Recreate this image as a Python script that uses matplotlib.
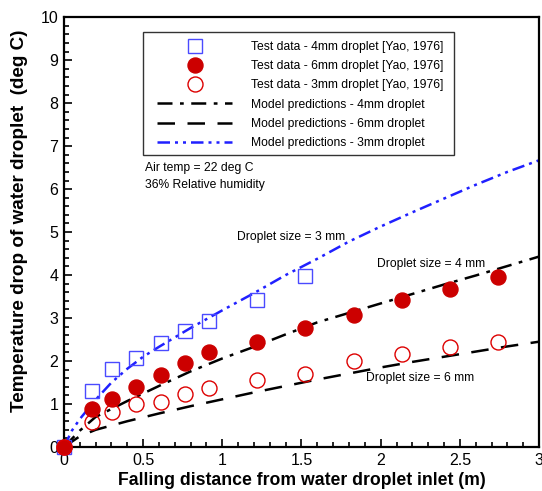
import matplotlib
matplotlib.use("Agg")
import matplotlib.pyplot as plt
from matplotlib.ticker import MultipleLocator
from matplotlib.patches import Rectangle

plt.rcParams["font.family"] = ["Liberation Sans", "DejaVu Sans"]

# test data (Yao, 1976)
x_test = [0, 0.178, 0.305, 0.457, 0.61, 0.762, 0.914, 1.219, 1.524, 1.829, 2.134, 2.438, 2.743]
y_sq = [0, 1.31, 1.81, 2.08, 2.41, 2.71, 2.93, 3.43, 3.98]
y_fill = [0, 0.89, 1.12, 1.40, 1.67, 1.96, 2.20, 2.45, 2.77, 3.07, 3.43, 3.67, 3.95]
y_open = [0, 0.58, 0.81, 1.00, 1.05, 1.23, 1.37, 1.57, 1.71, 2.01, 2.16, 2.33, 2.44]

# model predictions
x_blue = [0, 0.05, 0.1, 0.2, 0.3, 0.4, 0.5, 0.6, 0.8, 1.0, 1.2, 1.4, 1.6, 1.8, 2.0,
          2.2, 2.4, 2.6, 2.8, 3.0]
y_blue = [0, 0.38, 0.65, 1.1, 1.5, 1.82, 2.1, 2.33, 2.77, 3.18, 3.58, 4.0, 4.38, 4.78,
          5.13, 5.46, 5.78, 6.1, 6.4, 6.67]
x_mod = [0, 0.1, 0.2, 0.4, 0.6, 0.8, 1.0, 1.2, 1.4, 1.6, 1.8, 2.0, 2.2, 2.4, 2.6, 2.8, 3.0]
y_dashdot = [0, 0.38, 0.7, 1.07, 1.42, 1.76, 2.06, 2.33, 2.62, 2.9, 3.12, 3.34, 3.56,
             3.78, 3.99, 4.21, 4.43]
y_dashed = [0, 0.25, 0.4, 0.6, 0.78, 0.95, 1.11, 1.27, 1.42, 1.57, 1.71, 1.85, 1.98,
            2.1, 2.22, 2.34, 2.45]

fig = plt.figure(figsize=(5.42, 4.91), dpi=100)
ax = fig.add_axes([0.118, 0.0896, 0.8765, 0.8754])

ax.plot(x_test[:len(y_sq)], y_sq, ls="none", marker="s", ms=9.8, mfc="none",
        mec="#4a4aff", mew=1.0, clip_on=False, zorder=5,
        label="Test data - 4mm droplet [Yao, 1976]")
ax.plot(x_test, y_fill, ls="none", marker="o", ms=10.8, mfc="#cc0000",
        mec="#cc0000", clip_on=False, zorder=5,
        label="Test data - 6mm droplet [Yao, 1976]")
ax.plot(x_test, y_open, ls="none", marker="o", ms=10.8, mfc="none",
        mec="#dd0000", mew=1.0, clip_on=False, zorder=5,
        label="Test data - 3mm droplet [Yao, 1976]")
ax.plot(x_mod, y_dashdot, color="black", lw=1.8, dashes=(6, 3, 1.5, 3),
        label="Model predictions - 4mm droplet")
ax.plot(x_mod, y_dashed, color="black", lw=1.8, dashes=(7, 5),
        label="Model predictions - 6mm droplet")
ax.plot(x_blue, y_blue, color="#2020ff", lw=1.8, dashes=(5, 2, 1.2, 2, 1.2, 2),
        label="Model predictions - 3mm droplet")

ax.set_xlim(0, 3)
ax.set_ylim(0, 10)
ax.xaxis.set_minor_locator(MultipleLocator(0.1))
ax.yaxis.set_major_locator(MultipleLocator(1))
ax.yaxis.set_minor_locator(MultipleLocator(0.2))
ax.set_xticks([0, 0.5, 1, 1.5, 2, 2.5, 3])
ax.set_xticklabels(["0", "0.5", "1", "1.5", "2", "2.5", "3"])
ax.tick_params(which="both", direction="in", top=False, right=False, width=1.2,
               labelsize=11.5, pad=4)
ax.tick_params(which="major", length=6)
ax.tick_params(which="minor", length=3.5)
for s in ax.spines.values():
    s.set_linewidth(1.6)

ax.set_xlabel("Falling distance from water droplet inlet (m)", fontsize=12.7,
              fontweight="bold", labelpad=3)
ax.set_ylabel("Temperature drop of water droplet  (deg C)", fontsize=13.6,
              fontweight="bold")
ax.yaxis.set_label_coords(-0.075, 0.527)

ax.text(0.51, 6.49, "Air temp = 22 deg C", fontsize=8.7, va="center")
ax.text(0.51, 6.09, "36% Relative humidity", fontsize=8.7, va="center")
ax.text(1.09, 4.88, "Droplet size = 3 mm", fontsize=8.7, va="center")
ax.text(1.98, 4.26, "Droplet size = 4 mm", fontsize=8.7, va="center")
ax.text(1.91, 1.60, "Droplet size = 6 mm", fontsize=8.7, va="center")

# legend box drawn separately so the padding matches the original
ax.add_patch(Rectangle((0.1663, 0.679), 0.6547, 0.286, transform=ax.transAxes,
                       facecolor="white", edgecolor="#333333", lw=1.0, zorder=6))
leg = ax.legend(loc="upper left", bbox_to_anchor=(0.196, 0.945), fontsize=8.7,
                frameon=False, handlelength=6.2, handletextpad=1.55,
                labelspacing=0.6, borderpad=0, borderaxespad=0, numpoints=1)
leg.set_zorder(7)

fig.savefig("out.png", dpi=100)
